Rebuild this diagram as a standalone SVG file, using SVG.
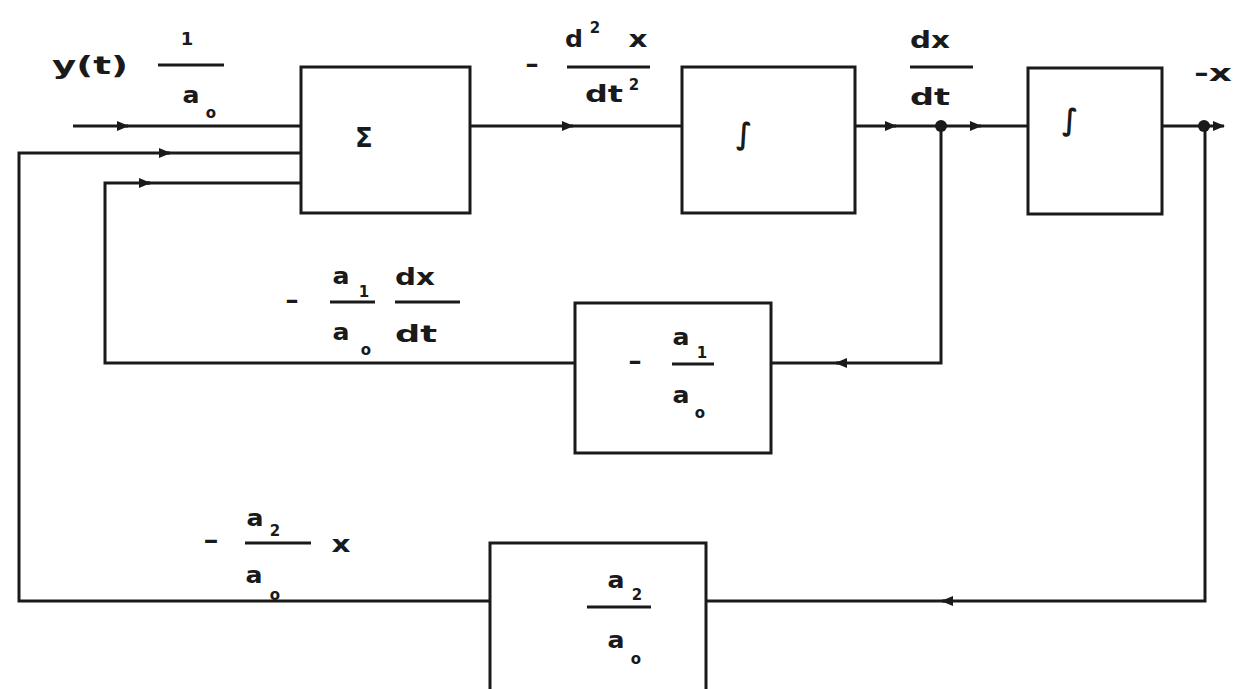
<svg xmlns="http://www.w3.org/2000/svg" width="1234" height="689" viewBox="0 0 1234 689">
<style>
  .bg{fill:#ffffff}
  .box{fill:none;stroke:#1a1a1a;stroke-width:3}
  .wire{fill:none;stroke:#1a1a1a;stroke-width:3}
  .bar{stroke:#1a1a1a;stroke-width:3}
  .arr{fill:none;stroke:#1a1a1a;stroke-width:3;marker-end:url(#ah)}
  .dot{fill:#1a1a1a}
  text{font-family:"DejaVu Sans","Liberation Sans",sans-serif;font-weight:bold;fill:#1a1a1a;text-anchor:middle}
  .t{font-size:23px}
  .s{font-size:15px}
  .big{font-size:26px}
  .int{font-size:30px;font-weight:bold}
</style>
<defs>
  <marker id="ah" markerUnits="userSpaceOnUse" markerWidth="12" markerHeight="10" refX="11" refY="5" orient="auto">
    <path d="M0,0 L12,5 L0,10 z" fill="#1a1a1a"/>
  </marker>
</defs>
<rect class="bg" x="0" y="0" width="1234" height="689"/>

<g id="connectors">
  <path class="arr" d="M73,126 H128"/>
  <path class="wire" d="M126,126 H301"/>
  <path class="arr" d="M470,126 H573"/>
  <path class="wire" d="M571,126 H682"/>
  <path class="arr" d="M855,126 H896"/>
  <path class="wire" d="M894,126 H941"/>
  <path class="arr" d="M941,126 H981"/>
  <path class="wire" d="M979,126 H1028"/>
  <circle class="dot" cx="941" cy="126" r="6"/>
  <path class="wire" d="M1162,126 H1210"/>
  <path class="arr" d="M1205,126 H1224"/>
  <circle class="dot" cx="1204" cy="126" r="6"/>
  <path class="wire" d="M941,126 V363 H838"/>
  <path class="arr" d="M842,363 H836"/>
  <path class="wire" d="M838,363 H771"/>
  <path class="wire" d="M575,363 H105 V183 H150"/>
  <path class="arr" d="M144,183 H150"/>
  <path class="wire" d="M148,183 H301"/>
  <path class="wire" d="M1205,126 V601 H944"/>
  <path class="arr" d="M948,601 H942"/>
  <path class="wire" d="M944,601 H706"/>
  <path class="wire" d="M490,601 H19 V153 H168"/>
  <path class="arr" d="M162,153 H170"/>
  <path class="wire" d="M168,153 H301"/>
</g>

<g id="input-label">
  <text class="t" x="90" y="74" style="font-size:25px" textLength="76" lengthAdjust="spacingAndGlyphs">y(t)</text>
  <text class="t" x="187" y="45" style="font-size:18px">1</text>
  <line class="bar" x1="158" y1="65" x2="224" y2="65"/>
  <text class="t" x="191" y="103" textLength="17" lengthAdjust="spacingAndGlyphs">a</text>
  <text class="s" x="211" y="118">o</text>
</g>

<g id="sum">
  <rect class="box" x="301" y="67" width="169" height="146"/>
  <text class="big" x="364" y="147">Σ</text>
</g>

<g id="label-d2x">
  <text class="t" x="532" y="72" textLength="14" lengthAdjust="spacingAndGlyphs">-</text>
  <text class="t" x="574" y="47" textLength="18" lengthAdjust="spacingAndGlyphs">d</text>
  <text class="s" x="595" y="33">2</text>
  <text class="t" x="638" y="47" textLength="19" lengthAdjust="spacingAndGlyphs">x</text>
  <line class="bar" x1="567" y1="67" x2="650" y2="67"/>
  <text class="t" x="604" y="102" textLength="38" lengthAdjust="spacingAndGlyphs">dt</text>
  <text class="s" x="634" y="90">2</text>
</g>

<g id="integrator1">
  <rect class="box" x="682" y="67" width="173" height="146"/>
  <text class="int" x="744" y="144" textLength="16" lengthAdjust="spacingAndGlyphs">∫</text>
</g>

<g id="label-dxdt">
  <text class="t" x="930" y="48" textLength="40" lengthAdjust="spacingAndGlyphs">dx</text>
  <line class="bar" x1="910" y1="67" x2="973" y2="67"/>
  <text class="t" x="930" y="105" textLength="40" lengthAdjust="spacingAndGlyphs">dt</text>
</g>

<g id="integrator2">
  <rect class="box" x="1028" y="68" width="134" height="146"/>
  <text class="int" x="1070" y="130" textLength="16" lengthAdjust="spacingAndGlyphs">∫</text>
</g>

<g id="output-label">
  <text class="t" x="1213" y="81" textLength="38" lengthAdjust="spacingAndGlyphs">-x</text>
</g>

<g id="label-a1">
  <text class="t" x="292" y="308" textLength="14" lengthAdjust="spacingAndGlyphs">-</text>
  <text class="t" x="341" y="284" textLength="17" lengthAdjust="spacingAndGlyphs">a</text>
  <text class="s" x="364" y="297">1</text>
  <line class="bar" x1="330" y1="302" x2="375" y2="302"/>
  <text class="t" x="341" y="340" textLength="17" lengthAdjust="spacingAndGlyphs">a</text>
  <text class="s" x="366" y="355">o</text>
  <text class="t" x="415" y="285" textLength="40" lengthAdjust="spacingAndGlyphs">dx</text>
  <line class="bar" x1="395" y1="302" x2="460" y2="302"/>
  <text class="t" x="416" y="342" textLength="42" lengthAdjust="spacingAndGlyphs">dt</text>
</g>

<g id="gain1">
  <rect class="box" x="575" y="303" width="196" height="150"/>
  <text class="t" x="635" y="369" textLength="14" lengthAdjust="spacingAndGlyphs">-</text>
  <text class="t" x="681" y="345" textLength="17" lengthAdjust="spacingAndGlyphs">a</text>
  <text class="s" x="702" y="358">1</text>
  <line class="bar" x1="672" y1="364" x2="714" y2="364"/>
  <text class="t" x="681" y="403" textLength="17" lengthAdjust="spacingAndGlyphs">a</text>
  <text class="s" x="700" y="418">o</text>
</g>

<g id="label-a2">
  <text class="t" x="211" y="548" textLength="16" lengthAdjust="spacingAndGlyphs">-</text>
  <text class="t" x="255" y="526" textLength="17" lengthAdjust="spacingAndGlyphs">a</text>
  <text class="s" x="275" y="536">2</text>
  <line class="bar" x1="245" y1="543" x2="311" y2="543"/>
  <text class="t" x="341" y="552" textLength="19" lengthAdjust="spacingAndGlyphs">x</text>
  <text class="t" x="254" y="583" textLength="17" lengthAdjust="spacingAndGlyphs">a</text>
  <text class="s" x="275" y="600">o</text>
</g>

<g id="gain2">
  <rect class="box" x="490" y="543" width="216" height="160"/>
  <text class="t" x="616" y="588" textLength="17" lengthAdjust="spacingAndGlyphs">a</text>
  <text class="s" x="637" y="600">2</text>
  <line class="bar" x1="587" y1="607" x2="651" y2="607"/>
  <text class="t" x="616" y="648" textLength="17" lengthAdjust="spacingAndGlyphs">a</text>
  <text class="s" x="636" y="664">o</text>
</g>
</svg>
